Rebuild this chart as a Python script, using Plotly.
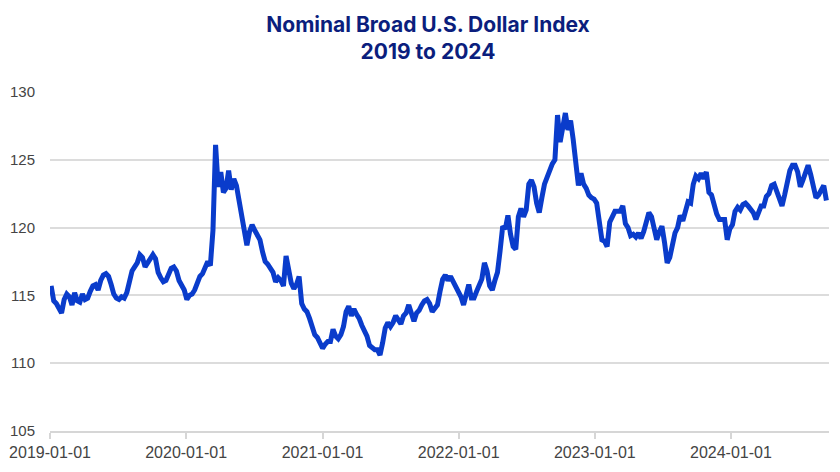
import pandas as pd
import plotly.graph_objects as go

# Weekly readings of the Nominal Broad U.S. Dollar Index
start_date = "2019-01-04"
idx_2019 = [115.7, 114.6, 114.4, 114.1, 113.7, 114.7, 115.1, 114.9, 114.3, 115.2,
            114.6, 114.5, 115.1, 114.7, 114.8, 115.3, 115.7, 115.8, 115.4, 116.1,
            116.5, 116.6, 116.4, 115.8, 115.1, 114.8, 114.7, 114.9, 114.8, 115.2,
            115.9, 116.8, 117.1, 117.4, 118.0, 117.8, 117.1, 117.4, 117.8, 118.0,
            117.7, 116.7, 116.3, 116.0, 116.1, 116.7, 117.0, 117.1, 116.8, 116.1,
            115.8, 115.4]
idx_2020 = [114.7, 115.0, 115.1, 115.4, 115.9, 116.4, 116.6, 117.0, 117.5, 117.2,
            119.8, 126.1, 123.0, 124.1, 122.6, 122.9, 124.2, 122.8, 123.6, 123.1,
            122.0, 120.6, 119.6, 118.7, 119.7, 120.2, 119.8, 119.4, 119.1, 118.2,
            117.5, 117.3, 116.9, 116.7, 116.0, 116.3, 116.1, 115.7, 117.9, 116.8,
            115.9, 115.5, 115.8, 116.4, 114.4, 114.0, 113.8, 113.3, 112.8, 112.1,
            111.9, 111.5]
idx_2021 = [111.1, 111.4, 111.6, 111.6, 112.5, 112.0, 111.8, 112.1, 112.7, 113.8,
            114.2, 113.5, 114.0, 113.6, 113.3, 112.8, 112.4, 112.0, 111.3, 111.1,
            111.0, 111.0, 110.6, 111.5, 112.6, 113.0, 112.7, 113.0, 113.5, 113.2,
            112.9, 113.5, 113.7, 114.3, 113.7, 113.1, 113.7, 113.9, 114.3, 114.6,
            114.7, 114.4, 113.8, 114.1, 114.3, 115.3, 116.2, 116.5, 116.1, 116.4,
            116.0, 115.6]
idx_2022 = [115.4, 114.9, 114.3, 115.2, 115.8, 114.8, 114.8, 115.3, 115.8, 116.2,
            117.4, 116.8, 115.7, 115.4, 116.1, 116.7, 118.3, 120.1, 119.9, 120.9,
            119.5, 118.6, 118.4, 120.8, 121.4, 120.8, 121.3, 123.2, 123.5, 123.0,
            121.8, 121.1, 122.2, 123.2, 123.7, 124.3, 124.7, 125.0, 128.3, 126.3,
            127.6, 128.45, 127.2, 127.9, 126.5, 124.8, 123.1, 124.0, 123.2, 122.9,
            122.4, 122.2]
idx_2023 = [122.1, 121.8, 120.1, 119.1, 119.0, 118.6, 120.4, 120.8, 121.2, 121.2,
            121.2, 121.6, 120.3, 120.0, 119.4, 119.5, 119.3, 119.6, 119.2, 119.7,
            120.3, 121.1, 120.8, 119.9, 119.1, 119.7, 120.1, 118.9, 117.4, 117.8,
            118.6, 119.6, 120.0, 120.9, 120.5, 121.3, 121.9, 121.8, 123.2, 123.8,
            123.6, 124.0, 123.6, 124.1, 122.6, 122.4, 121.5, 121.0, 120.6, 120.6,
            120.6, 119.1]
idx_2024 = [119.9, 120.2, 121.2, 121.5, 121.3, 121.7, 121.8, 121.6, 121.4, 121.1,
            120.6, 121.1, 121.6, 121.6, 122.3, 122.5, 123.1, 123.2, 122.6, 121.9,
            121.6, 122.4, 123.5, 124.2, 124.6, 124.6, 124.1, 123.0, 123.5, 124.1,
            124.6, 123.9, 123.2, 122.2, 122.4, 122.7, 123.1, 122.0]

values = idx_2019 + idx_2020 + idx_2021 + idx_2022 + idx_2023 + idx_2024
dates = pd.date_range(start_date, periods=len(values), freq="7D")

title_text = "Nominal Broad U.S. Dollar Index<br>2019 to 2024"
x_range = ["2019-01-01", "2024-09-20"]
y_range = [105, 130]
y_ticks = [105, 110, 115, 120, 125, 130]

fig = go.Figure()
fig.add_trace(go.Scatter(
    x=dates, y=values, mode="lines",
    line=dict(color="#0a3ccb", width=5),
    hoverinfo="x+y", showlegend=False,
))

fig.update_layout(
    width=840, height=472,
    paper_bgcolor="white", plot_bgcolor="white",
    margin=dict(l=42, r=19, t=84, b=49),
    title=dict(
        text=title_text,
        x=0.5, xanchor="center",
        yref="container", y=0.949, yanchor="top",
        font=dict(family="Inter, Lato, sans-serif", size=21, color="#0b1e7d",
                  weight="bold"),
    ),
    font=dict(family="Liberation Sans, Arial, sans-serif", size=15, color="#444444"),
)

fig.update_xaxes(
    type="date", range=x_range, automargin=False,
    dtick="M12", tick0="2019-01-01", tickformat="%Y-%m-%d",
    showgrid=False, zeroline=False,
    showline=True, linecolor="#d6d6d6", linewidth=1.5,
    ticks="outside", ticklen=6, tickcolor="#d6d6d6", tickwidth=1.5,
    tickfont=dict(size=16, color="#444444"),
)
fig.update_yaxes(
    range=y_range, tickvals=y_ticks, automargin=False,
    showgrid=True, gridcolor="#dcdcdc", gridwidth=1.5,
    zeroline=False, showline=False, ticks="",
    ticklabelstandoff=14,
    tickfont=dict(size=15, color="#444444"),
)

fig.write_html("out.html")
